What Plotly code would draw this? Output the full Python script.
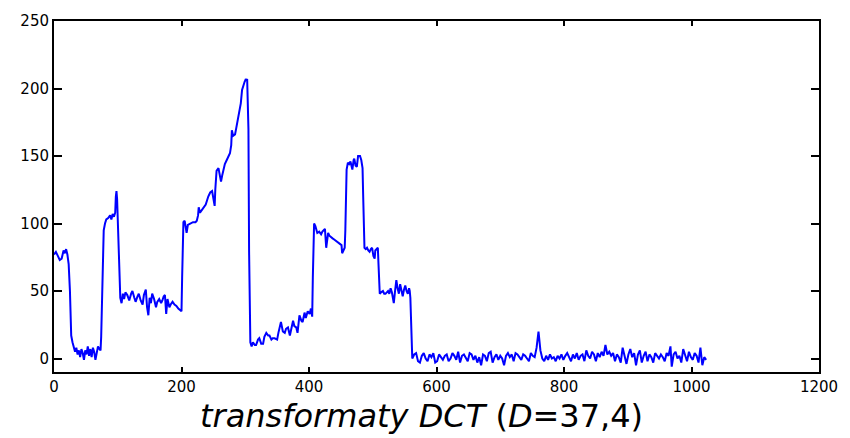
import plotly.graph_objects as go

# sample index / amplitude pieces
idx_a = [0, 3, 6, 9, 12, 15, 17, 19, 21, 23, 25, 27, 29, 31]
amp_a = [77, 79, 76, 73, 74, 80, 78, 81, 77, 70, 50, 17, 12, 8]

idx_b = [33, 35, 37, 39, 41, 43, 45, 47, 49, 51, 53, 55, 57, 59, 61, 63, 65, 67, 69, 71, 73]
amp_b = [5, 8, 3, 6, 1, 7, 4, -1, 6, 3, 9, 2, 7, 1, 8, 5, -1, 4, 9, 7, 6]

idx_c = [74, 76, 78, 80, 82, 85, 88, 90, 92, 94, 96, 97, 98, 99, 101, 103]
amp_c = [16, 60, 95, 100, 103, 104, 106, 103, 107, 105, 108, 120, 124, 118, 90, 60]

idx_d = [104, 106, 108, 110, 112, 115, 118, 121, 123, 126, 128, 131, 133, 136, 139, 141, 144, 146,
         148, 150, 152, 154, 157, 160, 162, 165, 168, 170, 172, 174, 176, 178, 181, 183, 186, 189,
         192, 195, 198, 200]
amp_d = [45, 41, 48, 44, 49, 47, 43, 48, 50, 45, 42, 46, 48, 43, 40, 47, 51, 38,
         32, 45, 41, 48, 44, 38, 42, 44, 41, 43, 46, 47, 33, 44, 38, 40, 42, 40,
         39, 37, 36, 35]

idx_e = [201, 202, 203, 205, 208, 210, 214, 218, 222, 224, 226, 227, 229, 232, 235, 238, 242, 245,
         248, 250, 252, 253, 255, 258, 260, 262, 264, 266, 268, 271, 274, 276, 278, 279, 281, 284,
         286, 289, 291, 293, 295, 297, 299, 301, 302, 303, 304, 305, 306, 307]
amp_e = [60, 90, 101, 102, 93, 99, 100, 101, 101, 102, 106, 112, 108, 110, 112, 114, 120, 123,
         124, 118, 113, 125, 139, 141, 135, 131, 136, 141, 144, 147, 150, 152, 158, 169, 165, 166,
         171, 180, 183, 189, 199, 203, 205, 207, 206, 207, 195, 170, 80, 20]

idx_f = [308, 310, 312, 315, 317, 320, 322, 325, 328, 330, 333, 336, 338, 341, 343, 346, 350, 352,
         354, 356, 359, 362, 364, 367, 370, 372, 375, 377, 380, 382, 385, 388, 390, 393, 395, 398,
         401, 403, 405]
amp_f = [12, 9, 12, 10, 10, 14, 15, 11, 11, 16, 19, 17, 17, 14, 15, 15, 14, 19,
         23, 27, 20, 19, 22, 23, 17, 21, 28, 24, 23, 19, 32, 28, 27, 34, 30, 35,
         33, 37, 31]

idx_g = [406, 407, 408, 410, 413, 416, 419, 421, 424, 425, 427, 428, 430, 432, 434, 437, 440, 443,
         446, 449, 451, 452, 454, 456, 457, 458, 459, 461, 463, 465, 467, 468, 470, 471, 473, 475,
         477, 480, 482, 484, 485, 486, 487, 489, 491, 493, 495, 497, 499, 501, 503, 504, 506, 508,
         509, 510, 511]
amp_g = [60, 90, 100, 98, 93, 94, 92, 94, 95, 96, 82, 88, 93, 91, 90, 89, 88, 87,
         86, 85, 84, 78, 80, 82, 95, 117, 140, 145, 144, 146, 141, 140, 147, 148, 143, 142,
         150, 150, 147, 141, 120, 100, 82, 81, 82, 80, 79, 81, 82, 76, 74, 80, 81, 82,
         70, 60, 48]

idx_h = [513, 516, 518, 520, 522, 524, 526, 528, 530, 532, 533, 535, 537, 539, 541, 543, 545, 547,
         549, 551, 553, 555, 557, 558, 559, 560, 561]
amp_h = [49, 50, 48, 48, 49, 50, 48, 52, 49, 44, 41, 50, 58, 52, 48, 55, 50, 46,
         51, 54, 50, 48, 52, 50, 45, 30, 5]

idx_i = [562, 565, 568, 571, 574, 577, 580, 583, 586, 589, 592, 595, 598, 601, 604, 607, 610, 613,
         616, 619, 622, 625, 628, 631, 634, 637, 640, 643, 646, 649, 652, 655, 658, 661, 664, 667,
         670, 673, 676, 679, 682, 685, 688, 691, 694, 697, 700, 703, 706, 709, 712, 715, 718, 721,
         724, 727, 730, 733, 736, 739, 742, 745, 748, 751, 754, 757, 760, 763, 766, 769, 772, 775,
         778, 781, 784, 787, 790, 793, 796, 799, 802, 805, 808, 811, 814, 817, 820, 823, 826, 829,
         832, 835, 838, 841, 844, 847, 850, 853, 856, 859, 862, 865, 868, 871, 874, 877, 880, 883,
         886, 889, 892, 895, 898, 901, 904, 907, 910, 913, 916, 919, 922, 925, 928, 931, 934, 937,
         940, 943, 946, 949, 952, 955, 958, 961, 964, 967, 969, 972, 975, 978, 981, 984, 987, 990,
         993, 996, 999, 1002, 1005, 1008, 1011, 1014, 1017, 1020, 1023]
amp_i = [0, 3, 4, -2, -3, 2, 4, 0, -2, 3, 1, 4, -3, -2, 3, 1, -1, 2,
         3, -2, 0, 4, 2, -1, 5, -3, 2, 3, 0, -2, 4, 3, -1, 2, -3, 1,
         -5, 3, 2, -2, 4, 5, -3, 1, 3, -1, 2, 0, -5, 2, 4, 1, 3, -2,
         4, 3, 1, -1, 3, 2, 0, -2, 4, 2, 1, 8, 20, 6, 0, -2, 2, -1,
         3, 0, 1, -2, 2, 0, 3, -1, 2, 4, 1, -2, 3, 0, 4, -1, 2, 3,
         -2, 6, 2, 0, 5, 3, -2, 4, 1, 5, 2, 10, 3, 5, 2, 4, -2, 3,
         1, -3, 8, 2, -4, 3, 7, 1, 4, -5, 3, 6, -3, 2, 5, -2, 3, 1,
         -3, 4, 2, 0, 3, 1, -2, 4, 2, 9, -6, 3, 5, 0, 2, -3, 7, 2,
         -2, 5, 1, -1, 4, 2, -3, 8, -5, 1, -1]

x_ticks = [0, 200, 400, 600, 800, 1000, 1200]
y_ticks = [0, 50, 100, 150, 200, 250]

sample_idx = idx_a + idx_b + idx_c + idx_d + idx_e + idx_f + idx_g + idx_h + idx_i
amplitude = amp_a + amp_b + amp_c + amp_d + amp_e + amp_f + amp_g + amp_h + amp_i

fig = go.Figure()
fig.add_trace(go.Scatter(x=sample_idx, y=amplitude, mode="lines",
                         line=dict(color="#0000ff", width=2),
                         hoverinfo="skip", showlegend=False))

axis_font = dict(family="DejaVu Sans, Arial, sans-serif", size=15, color="black")
fig.update_layout(
    width=850, height=438,
    margin=dict(l=54, r=24, t=14, b=66),
    paper_bgcolor="white", plot_bgcolor="white",
    xaxis=dict(range=[0, 1200], tickvals=x_ticks, ticktext=[str(v) for v in x_ticks],
               showgrid=False, zeroline=False, showline=True, linecolor="black", linewidth=1.5,
               mirror="ticks", ticks="inside", ticklen=5, tickwidth=1.5, tickcolor="black",
               tickfont=axis_font),
    yaxis=dict(range=[-10, 250], tickvals=y_ticks, ticktext=[str(v) for v in y_ticks],
               showgrid=False, zeroline=False, showline=True, linecolor="black", linewidth=2,
               mirror="ticks", ticks="inside", ticklen=8, tickwidth=1.5, tickcolor="black",
               tickfont=axis_font),
    annotations=[dict(text="<i>transformaty DCT</i> (<i>D</i>=37,4)",
                      xref="paper", yref="paper", x=0.4806, y=-0.1245,
                      xanchor="center", yanchor="middle", showarrow=False,
                      font=dict(family="DejaVu Sans, Arial, sans-serif", size=32, color="black"))],
)

fig.write_html("out.html")
